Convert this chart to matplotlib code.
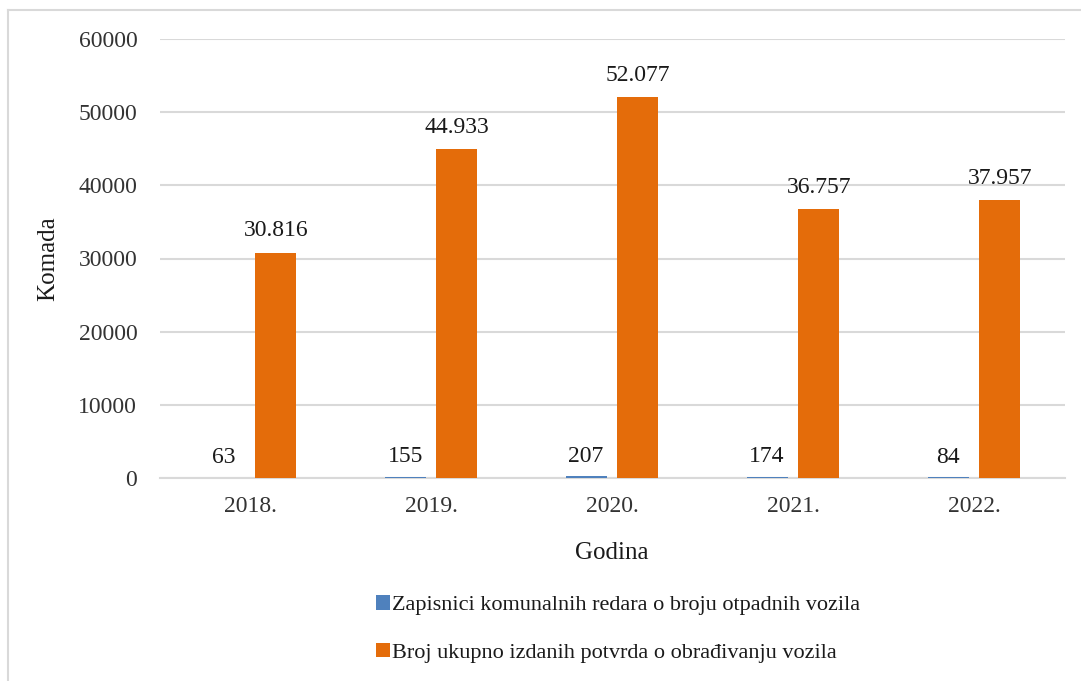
import matplotlib
matplotlib.use("Agg")
import matplotlib.pyplot as plt
from matplotlib.lines import Line2D
import numpy as np

years = ["2018.", "2019.", "2020.", "2021.", "2022."]
zapisnici = [63, 155, 207, 174, 84]
potvrde = [30816, 44933, 52077, 36757, 37957]
zapisnici_labels = ["63", "155", "207", "174", "84"]
potvrde_labels = ["30.816", "44.933", "52.077", "36.757", "37.957"]
series_names = ["Zapisnici komunalnih redara o broju otpadnih vozila",
                "Broj ukupno izdanih potvrda o obrađivanju vozila"]
yticks = [0, 10000, 20000, 30000, 40000, 50000, 60000]

plt.rcParams['font.family'] = ['Liberation Serif', 'DejaVu Serif']
W, H = 1081, 681
fig = plt.figure(figsize=(W / 100, H / 100), dpi=100)
ax = fig.add_axes([159.5 / W, 203 / H, 905 / W, 439 / H])

blue = "#4F81BD"
orange = "#E46C0A"
x = np.arange(len(years))
bw = 0.2265
off = 0.143
b1 = ax.bar(x - off, zapisnici, bw, color=blue, label=series_names[0], zorder=3)
b2 = ax.bar(x + off, potvrde, bw, color=orange, label=series_names[1], zorder=3)

fs = 17
txtc = "#1a1a1a"
for rect, lab in zip(b1, zapisnici_labels):
    ax.annotate(lab, (rect.get_x() + rect.get_width() / 2, rect.get_height()),
                xytext=(0, 7), textcoords="offset points", ha="center", va="bottom",
                fontsize=fs, color=txtc)
for rect, lab in zip(b2, potvrde_labels):
    ax.annotate(lab, (rect.get_x() + rect.get_width() / 2, rect.get_height()),
                xytext=(0, 8), textcoords="offset points", ha="center", va="bottom",
                fontsize=fs, color=txtc)

ax.set_xlim(-0.5, len(years) - 0.5)
ax.set_ylim(0, 60000)
ax.set_yticks(yticks)
ax.set_yticklabels([str(v) for v in yticks])
ax.set_xticks(x)
ax.set_xticklabels(years)
ax.tick_params(axis="both", length=0, labelsize=fs, colors="#333333")
ax.tick_params(axis="y", pad=16)
ax.tick_params(axis="x", pad=13)
ax.grid(axis="y", color="#d9d9d9", linewidth=1.5, zorder=0)
for s in ["top", "right", "left"]:
    ax.spines[s].set_visible(False)
ax.spines["bottom"].set_color("#d9d9d9")
ax.spines["bottom"].set_linewidth(1.5)
ax.set_axisbelow(True)

ax.set_xlabel("Godina", fontsize=fs + 1, color=txtc, labelpad=18)
ax.set_ylabel("Komada", fontsize=fs + 1, color=txtc, labelpad=14)

lfs = 16
leg = fig.legend(loc="upper left", bbox_to_anchor=(376 / W, 1 - 595 / H), frameon=False,
                 fontsize=lfs, handlelength=0.63, handleheight=0.63, handletextpad=0.1,
                 labelspacing=1.25, borderpad=0, borderaxespad=0)
for t in leg.get_texts():
    t.set_color(txtc)

# outer frame (partially visible)
fig.add_artist(Line2D([8 / W, 1.0], [1 - 10 / H, 1 - 10 / H], color="#d9d9d9", linewidth=1.5,
                      transform=fig.transFigure))
fig.add_artist(Line2D([8 / W, 8 / W], [0, 1 - 10 / H], color="#d9d9d9", linewidth=1.5,
                      transform=fig.transFigure))

fig.savefig("out.png", dpi=100)
